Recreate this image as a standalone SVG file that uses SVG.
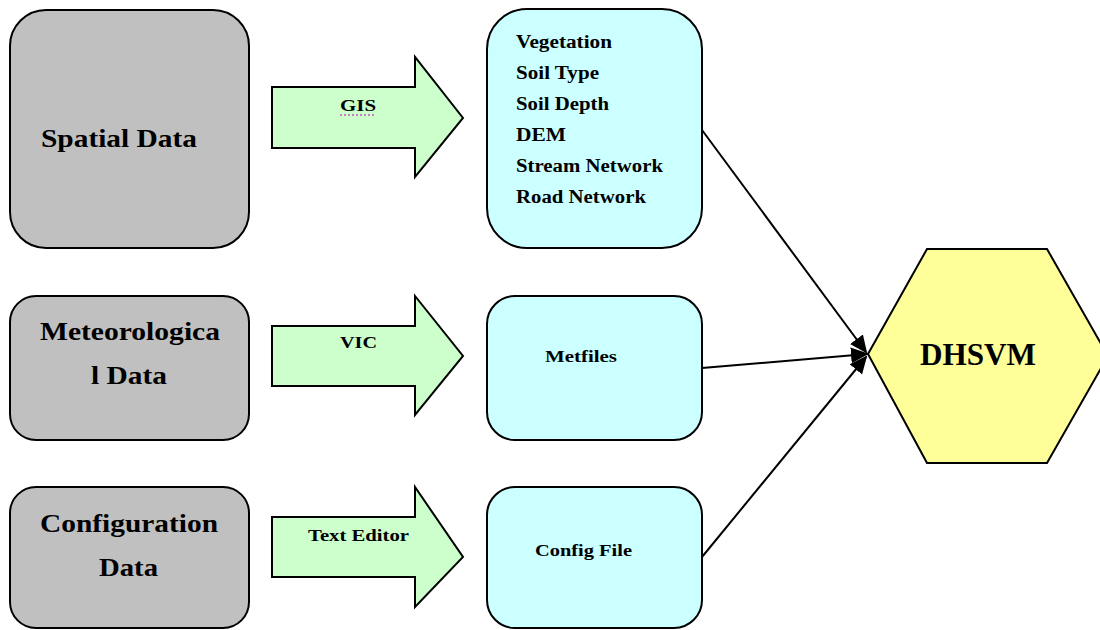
<svg xmlns="http://www.w3.org/2000/svg" width="1100" height="630" viewBox="0 0 1100 630">
<style>
.src{fill:#c0c0c0;stroke:#000;stroke-width:2}
.out{fill:#ccffff;stroke:#000;stroke-width:2}
.arr{fill:#ccffcc;stroke:#000;stroke-width:2}
.hex{fill:#ffff99;stroke:#000;stroke-width:2}
.t{font-weight:bold;fill:#000}
.big{font-size:26px}
.mid{font-size:18px}
.sm{font-size:17px}
.con{stroke:#000;stroke-width:2;fill:none;marker-end:url(#ah)}
</style>
<defs>
<marker id="ah" markerWidth="18" markerHeight="18" refX="16" refY="9" orient="auto" markerUnits="userSpaceOnUse" viewBox="0 0 18 18">
<path d="M0,1 L18,9 L0,17 z" fill="#000"/>
</marker>
</defs>
<rect width="1100" height="630" fill="#fff"/>
<g font-family="'Liberation Serif', 'Times New Roman', 'DejaVu Serif', serif">
<g id="spatial">
<rect class="src" x="10" y="10" width="239" height="238" rx="36"/>
<text class="t big" x="119" y="147" text-anchor="middle" textLength="156" lengthAdjust="spacingAndGlyphs">Spatial Data</text>
</g>
<g id="meteo">
<rect class="src" x="10" y="296" width="239" height="144" rx="26"/>
<text class="t big" x="130" y="340" text-anchor="middle" textLength="180" lengthAdjust="spacingAndGlyphs">Meteorologica</text>
<text class="t big" x="129" y="384" text-anchor="middle" textLength="76" lengthAdjust="spacingAndGlyphs">l Data</text>
</g>
<g id="config">
<rect class="src" x="10" y="487" width="239" height="141" rx="26"/>
<text class="t big" x="129" y="532" text-anchor="middle" textLength="178" lengthAdjust="spacingAndGlyphs">Configuration</text>
<text class="t big" x="128.5" y="576" text-anchor="middle" textLength="59" lengthAdjust="spacingAndGlyphs">Data</text>
</g>
<g id="gis">
<path class="arr" d="M272,87 H415 V57 L463,118 L415,177 V148 H272 Z"/>
<text class="t sm" x="358" y="111" text-anchor="middle" textLength="36" lengthAdjust="spacingAndGlyphs">GIS</text>
<line x1="340" y1="115" x2="376" y2="115" stroke="#c000c0" stroke-width="1" stroke-dasharray="2,2"/>
</g>
<g id="vic">
<path class="arr" d="M272,326 H415 V296 L463,356 L415,415 V386 H272 Z"/>
<text class="t sm" x="358.5" y="348" text-anchor="middle" textLength="37" lengthAdjust="spacingAndGlyphs">VIC</text>
</g>
<g id="texteditor">
<path class="arr" d="M272,517 H415 V487 L463,557 L415,607 V577 H272 Z"/>
<text class="t sm" x="358.5" y="541" text-anchor="middle" textLength="101" lengthAdjust="spacingAndGlyphs">Text Editor</text>
</g>
<g id="layers">
<rect class="out" x="487" y="9" width="215" height="239" rx="40"/>
<text class="t mid" x="516" y="48" textLength="96" lengthAdjust="spacingAndGlyphs">Vegetation</text>
<text class="t mid" x="516" y="79" textLength="83" lengthAdjust="spacingAndGlyphs">Soil Type</text>
<text class="t mid" x="516" y="110" textLength="93" lengthAdjust="spacingAndGlyphs">Soil Depth</text>
<text class="t mid" x="516" y="141" textLength="50" lengthAdjust="spacingAndGlyphs">DEM</text>
<text class="t mid" x="516" y="172" textLength="147" lengthAdjust="spacingAndGlyphs">Stream Network</text>
<text class="t mid" x="516" y="203" textLength="130" lengthAdjust="spacingAndGlyphs">Road Network</text>
</g>
<g id="metfiles">
<rect class="out" x="487" y="296" width="215" height="144" rx="28"/>
<text class="t sm" x="581" y="362" text-anchor="middle" textLength="72" lengthAdjust="spacingAndGlyphs">Metfiles</text>
</g>
<g id="configfile">
<rect class="out" x="487" y="487" width="215" height="141" rx="28"/>
<text class="t sm" x="583.5" y="556" text-anchor="middle" textLength="97" lengthAdjust="spacingAndGlyphs">Config File</text>
</g>
<g id="dhsvm">
<polygon class="hex" points="868,354 927,249 1047,249 1108,356 1047,463 927,463"/>
<text class="t" font-size="32" x="978" y="365" text-anchor="middle" textLength="116" lengthAdjust="spacingAndGlyphs">DHSVM</text>
</g>
</g>
<g id="connectors">
<line class="con" x1="702" y1="130" x2="866" y2="352"/>
<line class="con" x1="702" y1="368" x2="867" y2="354"/>
<line class="con" x1="702" y1="557" x2="866" y2="357"/>
</g>
</svg>
